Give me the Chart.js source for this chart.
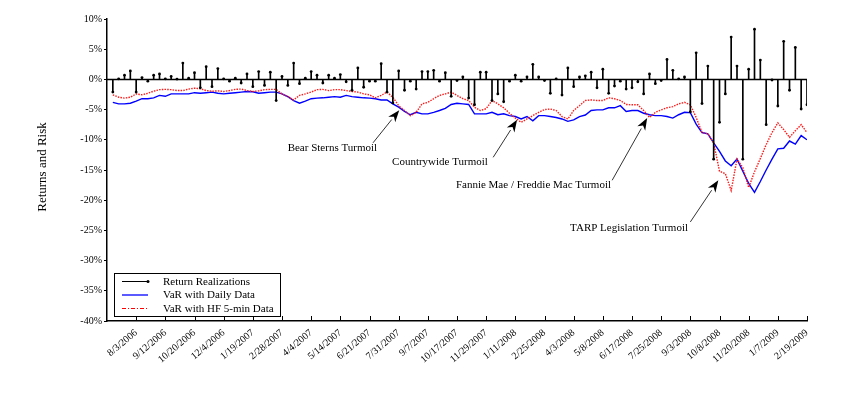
<!DOCTYPE html>
<html>
<head>
<meta charset="utf-8">
<script src="https://cdn.jsdelivr.net/npm/chart.js@4.4.0/dist/chart.umd.min.js"></script>
<style>
  html, body { margin: 0; padding: 0; background: #fff; }
  #wrap { position: relative; width: 854px; height: 398px; }
</style>
</head>
<body>
<div id="wrap"><canvas id="chart"></canvas></div>
<script>
// ---- data (one value per week, index 1..120) ----
const dateLabels = ['8/3/2006', '9/12/2006', '10/20/2006', '12/4/2006', '1/19/2007', '2/28/2007',
  '4/4/2007', '5/14/2007', '6/21/2007', '7/31/2007', '9/7/2007', '10/17/2007', '11/29/2007',
  '1/11/2008', '2/25/2008', '4/3/2008', '5/8/2008', '6/17/2008', '7/25/2008', '9/3/2008',
  '10/8/2008', '11/20/2008', '1/7/2009', '2/19/2009'];

const returns = [
  -2.1, 0.1, 0.7, 1.4, -2.1, 0.3, -0.3, 0.7, 0.9, 0.1,
  0.5, 0.05, 2.7, 0.2, 1.1, -1.4, 2.1, -1.2, 1.8, 0.1,
  -0.3, 0.2, -0.6, 0.9, -1.2, 1.3, -1.0, 1.2, -3.5, 0.5,
  -1.0, 2.7, -0.7, 0.2, 1.3, 0.7, -0.6, 0.7, 0.2, 0.8,
  -0.4, -1.8, 1.9, -1.3, -0.3, -0.3, 2.6, -2.1, -3.9, 1.4,
  -1.8, -0.3, -1.6, 1.3, 1.3, 1.5, -0.3, 1.1, -2.8, -0.2,
  0.4, -3.1, -4.2, 1.2, 1.2, -3.5, -2.4, -3.7, -0.3, 0.7,
  -0.3, 0.4, 2.5, 0.4, -0.2, -2.3, 0.1, -2.6, 1.9, -1.2,
  0.4, 0.6, 1.2, -1.4, 1.7, -2.3, -1.1, -0.3, -1.6, -1.4,
  -0.4, -2.4, 0.9, -0.7, -0.2, 3.3, 1.5, 0.1, 0.4, -5.4,
  4.4, -4.0, 2.2, -13.2, -7.1, -2.4, 7.0, 2.2, -13.2, 1.7,
  8.3, 3.2, -7.5, -0.1, -4.4, 6.3, -1.8, 5.3, -4.9, -4.2
];

const varDaily = [
  -3.8, -4.05, -4.05, -3.95, -3.6, -3.2, -3.2, -3.05, -2.65, -2.8,
  -2.4, -2.4, -2.4, -2.4, -2.2, -2.3, -2.2, -2.1, -2.3, -2.4,
  -2.3, -2.2, -2.1, -2.0, -2.05, -2.3, -2.2, -2.1, -2.1, -2.4,
  -2.85, -3.5, -3.95, -3.6, -3.2, -3.1, -3.05, -2.95, -2.85, -2.95,
  -2.65, -2.85, -2.95, -3.05, -3.1, -3.2, -3.4, -3.4, -4.05, -4.6,
  -5.3, -5.85, -5.45, -5.7, -5.7, -5.45, -5.15, -4.8, -4.15, -3.95,
  -4.05, -4.15, -5.7, -5.7, -5.7, -5.45, -5.85, -5.7, -6.0, -6.15,
  -6.55, -6.15, -6.85, -6.0, -6.0, -6.15, -6.3, -6.55, -6.95, -6.7,
  -6.15, -5.9, -5.15, -5.05, -5.05, -4.7, -4.7, -4.35, -5.3, -5.15,
  -5.15, -5.6, -5.85, -6.0, -6.0, -6.15, -6.4, -5.85, -5.45, -5.5,
  -7.4, -8.8, -9.0, -10.5, -11.9, -13.5, -14.3, -13.2, -15.2, -17.2,
  -18.7, -16.9, -15.0, -13.2, -11.5, -11.4, -10.2, -10.7, -9.3, -10.0
];

const varHF = [
  -2.55, -2.95, -3.1, -2.95, -2.4, -2.55, -2.3, -1.95, -1.7, -1.65,
  -1.7, -1.85, -1.85, -1.6, -1.45, -1.55, -1.85, -1.95, -1.9, -2.0,
  -1.85, -1.65, -1.6, -1.85, -2.0, -1.9, -1.7, -1.65, -1.65, -2.4,
  -2.85, -3.4, -2.65, -2.4, -2.1, -1.7, -1.65, -1.85, -1.7, -1.7,
  -1.85, -2.0, -2.1, -2.4, -2.55, -3.05, -2.65, -2.1, -2.95, -4.35,
  -5.15, -6.0, -5.45, -4.05, -3.8, -3.2, -2.65, -2.4, -2.1, -2.65,
  -3.2, -3.5, -4.6, -5.15, -4.85, -3.5, -4.05, -4.7, -5.6, -6.4,
  -7.1, -6.55, -6.0, -5.45, -5.0, -4.9, -5.15, -6.15, -6.55, -5.15,
  -4.35, -3.5, -3.4, -3.5, -3.5, -3.05, -3.2, -3.5, -4.15, -4.2,
  -4.2, -5.15, -6.3, -5.45, -5.05, -4.7, -4.5, -4.05, -3.8, -4.2,
  -6.3, -8.8, -9.0, -10.5, -15.2, -15.6, -18.4, -13.2, -14.6, -17.9,
  -15.3, -13.1, -10.8, -8.8, -7.2, -8.3, -9.6, -8.5, -7.5, -8.8
];

const seriesNames = ['Return Realizations', 'VaR with Daily Data', 'VaR with HF 5-min Data'];

// annotation text + arrow (tail -> tip), in data units (week index, %)
const notes = [
  { text: 'Bear Sterns Turmoil', at: [46.3, -11.4], tail: [45.6, -10.5], tip: [50.1, -5.1] },
  { text: 'Countrywide Turmoil', at: [65.3, -13.7], tail: [66.2, -12.9], tip: [70.3, -6.7] },
  { text: 'Fannie Mae / Freddie Mac Turmoil', at: [86.4, -17.5], tail: [86.6, -16.7], tip: [92.6, -6.4] },
  { text: 'TARP Legislation Turmoil', at: [99.6, -24.6], tail: [100.0, -23.6], tip: [104.8, -16.7] }
];

const FONT = "'Liberation Serif', 'Times New Roman', serif";
const pts = arr => arr.map((v, i) => ({ x: i + 1, y: v }));

// ---- plugins ----
const zeroLine = {
  id: 'zeroLine',
  beforeDatasetsDraw(chart) {
    const { ctx, chartArea: a, scales: { y } } = chart;
    const py = y.getPixelForValue(0);
    ctx.save();
    ctx.strokeStyle = '#000';
    ctx.lineWidth = 1.5;
    ctx.beginPath(); ctx.moveTo(a.left, py); ctx.lineTo(a.right, py); ctx.stroke();
    ctx.restore();
  }
};

const innerTicks = {
  id: 'innerTicks',
  afterDraw(chart) {
    const { ctx, chartArea: a, scales: { x } } = chart;
    ctx.save();
    ctx.strokeStyle = '#000';
    ctx.lineWidth = 1;
    x.ticks.forEach(t => {
      if (t.value <= 0) return;
      const px = Math.round(x.getPixelForValue(t.value)) + 0.5;
      ctx.beginPath(); ctx.moveTo(px, a.bottom); ctx.lineTo(px, a.bottom - 5); ctx.stroke();
    });
    ctx.restore();
  }
};

function arrow(ctx, x0, y0, x1, y1) {
  const ang = Math.atan2(y1 - y0, x1 - x0);
  const len = 12, half = 4.5;
  const bx = x1 - len * Math.cos(ang), by = y1 - len * Math.sin(ang);
  ctx.strokeStyle = '#333';
  ctx.lineWidth = 1;
  ctx.beginPath(); ctx.moveTo(x0, y0); ctx.lineTo(bx, by); ctx.stroke();
  const nx = -Math.sin(ang), ny = Math.cos(ang);
  const nxp = x1 - len * 0.7 * Math.cos(ang), nyp = y1 - len * 0.7 * Math.sin(ang);
  ctx.fillStyle = '#000';
  ctx.beginPath();
  ctx.moveTo(x1, y1);
  ctx.lineTo(bx + nx * half, by + ny * half);
  ctx.lineTo(nxp, nyp);
  ctx.lineTo(bx - nx * half, by - ny * half);
  ctx.closePath();
  ctx.fill();
}

const notesPlugin = {
  id: 'notes',
  afterDatasetsDraw(chart) {
    const { ctx, scales: { x, y } } = chart;
    ctx.save();
    ctx.font = '11px ' + FONT;
    ctx.textAlign = 'right';
    ctx.textBaseline = 'middle';
    notes.forEach(n => {
      ctx.fillStyle = '#000';
      ctx.fillText(n.text, x.getPixelForValue(n.at[0]), y.getPixelForValue(n.at[1]));
      arrow(ctx, x.getPixelForValue(n.tail[0]), y.getPixelForValue(n.tail[1]),
        x.getPixelForValue(n.tip[0]), y.getPixelForValue(n.tip[1]));
    });
    ctx.restore();
  }
};

const legendBox = {
  id: 'legendBox',
  afterDraw(chart) {
    const { ctx } = chart;
    const L = 114, T = 273, W = 166, H = 43;
    ctx.save();
    ctx.fillStyle = '#fff';
    ctx.fillRect(L, T, W, H);
    ctx.strokeStyle = '#000';
    ctx.lineWidth = 1;
    ctx.strokeRect(L + 0.5, T + 0.5, W, H);
    const rows = [281, 294.5, 308];
    ctx.font = '11px ' + FONT;
    ctx.textBaseline = 'middle';
    ctx.textAlign = 'left';
    rows.forEach((ry, i) => {
      ctx.beginPath();
      if (i === 0) { ctx.strokeStyle = '#000'; ctx.setLineDash([]); ctx.lineWidth = 1; }
      if (i === 1) { ctx.strokeStyle = '#0000ff'; ctx.setLineDash([]); ctx.lineWidth = 1.3; }
      if (i === 2) { ctx.strokeStyle = '#ff0000'; ctx.setLineDash([4, 2, 1, 2]); ctx.lineWidth = 1; }
      ctx.moveTo(122, ry + 0.5); ctx.lineTo(148, ry + 0.5); ctx.stroke();
      if (i === 0) {
        ctx.fillStyle = '#000';
        ctx.beginPath(); ctx.arc(148, ry + 0.5, 1.5, 0, Math.PI * 2); ctx.fill();
      }
      ctx.setLineDash([]);
      ctx.fillStyle = '#000';
      ctx.fillText(seriesNames[i], 163, ry + 1);
    });
    // y axis title
    ctx.font = '13px ' + FONT;
    ctx.textAlign = 'center';
    ctx.translate(43, 167);
    ctx.rotate(-Math.PI / 2);
    ctx.fillText('Returns and Risk', 0, 0);
    ctx.restore();
  }
};

Chart.defaults.font.family = FONT;
Chart.defaults.color = '#000';

new Chart(document.getElementById('chart'), {
  type: 'bar',
  data: {
    datasets: [
      { label: seriesNames[0], data: pts(returns), backgroundColor: '#000', barThickness: 1, order: 0 },
      { type: 'line', label: seriesNames[0] + ' tips', data: pts(returns), showLine: false,
        pointRadius: 1.4, pointBackgroundColor: '#000', pointBorderWidth: 0, order: 0 },
      { type: 'line', label: seriesNames[1], data: pts(varDaily), borderColor: '#0000ff',
        borderWidth: 1.4, pointRadius: 0, tension: 0, order: 2 },
      { type: 'line', label: seriesNames[2], data: pts(varHF), borderColor: '#ff1a1a',
        borderWidth: 1.4, borderDash: [1.5, 1.2], pointRadius: 0, tension: 0, order: 1 }
    ]
  },
  options: {
    responsive: true,
    maintainAspectRatio: false,
    animation: false,
    layout: { padding: { top: 19, right: 47, bottom: 0, left: 0 } },
    plugins: { legend: { display: false }, tooltip: { enabled: false } },
    scales: {
      x: {
        type: 'linear', min: 0, max: 120, offset: false,
        grid: { drawOnChartArea: false, drawTicks: false, offset: false },
        border: { color: '#000', width: 1.5 },
        ticks: {
          stepSize: 5, autoSkip: false, maxRotation: 40, minRotation: 40, padding: 6,
          font: { size: 10 },
          callback: v => (v > 0 && v % 5 === 0) ? dateLabels[v / 5 - 1] : ''
        },
        afterFit: s => { s.height = 77; }
      },
      y: {
        min: -40, max: 10,
        grid: { drawOnChartArea: false, tickLength: 3, color: '#000' },
        border: { color: '#000', width: 1.5 },
        ticks: { stepSize: 5, padding: 2, font: { size: 10 }, callback: v => v + '%' },
        afterFit: s => { s.width = 107; }
      }
    }
  },
  plugins: [zeroLine, notesPlugin, innerTicks, legendBox]
});
</script>
</body>
</html>
